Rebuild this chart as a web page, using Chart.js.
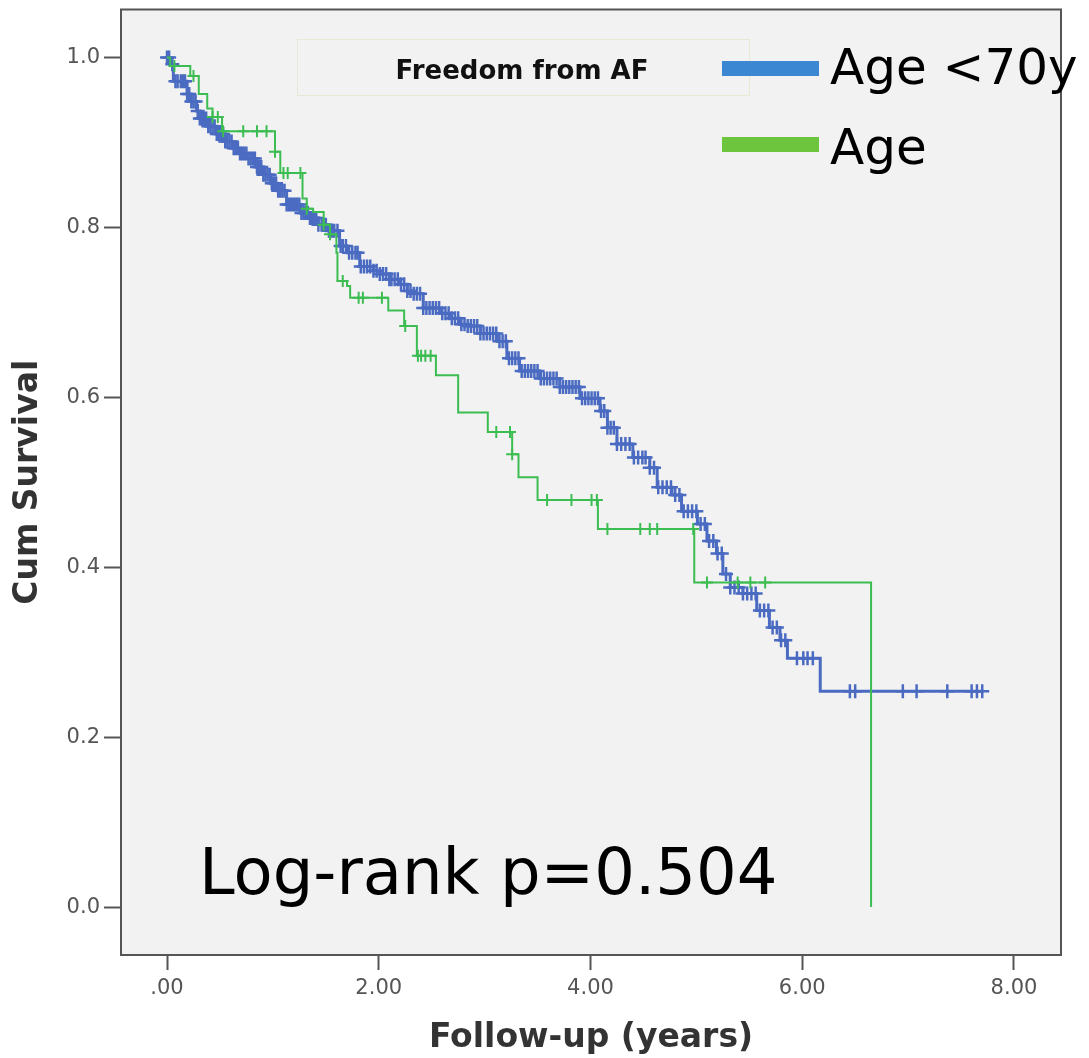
<!DOCTYPE html>
<html>
<head>
<meta charset="utf-8">
<script src="https://cdn.jsdelivr.net/npm/chart.js@4.4.1/dist/chart.umd.min.js"></script>
<style>
  html, body { margin: 0; padding: 0; background: #fff; }
  #wrap { width: 1089px; height: 1058px; position: relative; }
</style>
</head>
<body>
<div id="wrap"><canvas id="km"></canvas></div>
<script>
// axis ticks
const xTicks = [0, 2, 4, 6, 8];
const yTicks = [0, 0.2, 0.4, 0.6, 0.8, 1.0];

const legendTitle = 'Freedom from AF';
const seriesLabels = ['Age <70y', 'Age'];
const pValueText = 'Log-rank p=0.504';

// Age <70y : step curve (time in years, cumulative survival)
const blueTimes = [0, 0.03, 0.06, 0.19, 0.22, 0.28, 0.31, 0.39, 0.47, 0.55, 0.62, 0.69, 0.76, 0.84, 0.91, 0.98, 1.04, 1.13, 1.26, 1.35,
  1.43, 1.51, 1.63, 1.70, 1.82, 1.95, 2.01, 2.10, 2.20, 2.27, 2.32, 2.42, 2.58, 2.68, 2.77, 2.83, 2.96, 3.12, 3.21, 3.33,
  3.52, 3.71, 3.90, 4.09, 4.16, 4.25, 4.40, 4.56, 4.63, 4.77, 4.86, 5.01, 5.10, 5.19, 5.25, 5.32, 5.44, 5.57, 5.69, 5.79,
  5.86, 6.17, 7.71];
const blueSurv = [1.0, 0.992, 0.972, 0.957, 0.948, 0.937, 0.928, 0.919, 0.910, 0.901, 0.893, 0.887, 0.881, 0.871, 0.862, 0.852, 0.843, 0.827, 0.817, 0.811,
  0.803, 0.796, 0.778, 0.770, 0.754, 0.749, 0.745, 0.739, 0.733, 0.725, 0.722, 0.705, 0.699, 0.693, 0.686, 0.684, 0.675, 0.666, 0.646, 0.631,
  0.622, 0.612, 0.599, 0.584, 0.564, 0.545, 0.529, 0.517, 0.494, 0.485, 0.466, 0.451, 0.431, 0.416, 0.392, 0.376, 0.369, 0.349, 0.329, 0.314,
  0.293, 0.254, 0.254];
// censored times
const blueCensor = [0.00, 0.02, 0.05, 0.08, 0.10, 0.13, 0.15, 0.17, 0.19, 0.21, 0.23, 0.25, 0.27, 0.29, 0.31, 0.33, 0.35, 0.37, 0.39, 0.41,
  0.43, 0.45, 0.47, 0.49, 0.51, 0.53, 0.55, 0.57, 0.59, 0.61, 0.63, 0.65, 0.67, 0.69, 0.71, 0.73, 0.75, 0.77, 0.79, 0.81,
  0.83, 0.85, 0.87, 0.89, 0.91, 0.93, 0.95, 0.97, 0.99, 1.01, 1.03, 1.05, 1.07, 1.09, 1.11, 1.13, 1.15, 1.17, 1.19, 1.21,
  1.23, 1.25, 1.27, 1.29, 1.31, 1.33, 1.35, 1.37, 1.39, 1.41, 1.43, 1.46, 1.48, 1.50, 1.53, 1.56, 1.58, 1.61, 1.64, 1.66,
  1.69, 1.72, 1.75, 1.78, 1.80, 1.83, 1.86, 1.89, 1.92, 1.95, 1.98, 2.01, 2.04, 2.07, 2.10, 2.12, 2.15, 2.18, 2.21, 2.24,
  2.27, 2.30, 2.33, 2.36, 2.39, 2.42, 2.45, 2.48, 2.51, 2.54, 2.57, 2.60, 2.63, 2.66, 2.69, 2.72, 2.75, 2.78, 2.81, 2.84,
  2.87, 2.90, 2.93, 2.96, 2.99, 3.02, 3.05, 3.08, 3.11, 3.14, 3.17, 3.20, 3.23, 3.26, 3.29, 3.32, 3.35, 3.38, 3.41, 3.44,
  3.47, 3.50, 3.53, 3.56, 3.59, 3.62, 3.65, 3.68, 3.71, 3.74, 3.77, 3.80, 3.83, 3.86, 3.89, 3.92, 3.95, 3.98, 4.01, 4.04,
  4.07, 4.10, 4.13, 4.16, 4.19, 4.22, 4.25, 4.29, 4.33, 4.37, 4.41, 4.45, 4.49, 4.52, 4.56, 4.60, 4.64, 4.68, 4.72, 4.76,
  4.80, 4.84, 4.88, 4.92, 4.96, 5.00, 5.04, 5.08, 5.12, 5.16, 5.20, 5.24, 5.28, 5.32, 5.36, 5.40, 5.44, 5.48, 5.52, 5.56,
  5.60, 5.64, 5.68, 5.72, 5.76, 5.80, 5.84, 5.95, 6.01, 6.05, 6.10, 6.45, 6.50, 6.95, 7.08, 7.37, 7.60, 7.65, 7.70];

// Age >=70y
const greenTimes = [0, 0.03, 0.22, 0.30, 0.38, 0.43, 0.52, 1.02, 1.07, 1.28, 1.32, 1.38, 1.48, 1.54, 1.60, 1.61, 1.70, 1.73, 2.09, 2.24,
  2.36, 2.54, 2.75, 3.03, 3.26, 3.32, 3.50, 4.07, 4.98, 6.65];
const greenSurv = [1.0, 0.990, 0.978, 0.957, 0.940, 0.930, 0.913, 0.889, 0.864, 0.834, 0.822, 0.818, 0.803, 0.792, 0.770, 0.737, 0.731, 0.717, 0.702, 0.684,
  0.649, 0.626, 0.582, 0.559, 0.533, 0.506, 0.479, 0.445, 0.382, 0.0];
const greenCensor = [0.07, 0.25, 0.43, 0.48, 0.53, 0.72, 0.85, 0.94, 1.02, 1.10, 1.14, 1.26, 1.32, 1.48, 1.54, 1.66, 1.81, 1.85, 2.03, 2.25,
  2.37, 2.40, 2.44, 2.49, 3.11, 3.24, 3.26, 3.59, 3.82, 4.01, 4.06, 4.16, 4.47, 4.56, 4.63, 4.97, 5.10, 5.39, 5.51, 5.65];

const BLUE = '#4a6bc1';
const GREEN = '#3cbd52';

function survAt(times, surv, t) {
  let s = surv[0];
  for (let i = 0; i < times.length; i++) {
    if (times[i] <= t) s = surv[i];
  }
  return s;
}

function curve(times, surv) {
  return times.map((t, i) => ({ x: t, y: surv[i] }));
}

function censorPts(list, times, surv) {
  return list.map(t => ({ x: t, y: survAt(times, surv, t) }));
}

const frame = {
  id: 'frame',
  beforeDraw(chart) {
    const { ctx, chartArea: a } = chart;
    ctx.save();
    ctx.fillStyle = '#ffffff';
    ctx.fillRect(0, 0, chart.width, chart.height);
    ctx.fillStyle = '#f2f2f2';
    ctx.fillRect(a.left, a.top, a.right - a.left, a.bottom - a.top);
    ctx.restore();
  },
  afterDraw(chart) {
    const { ctx, chartArea: a } = chart;
    ctx.save();
    ctx.strokeStyle = '#555';
    ctx.lineWidth = 2;
    ctx.strokeRect(a.left, a.top, a.right - a.left, a.bottom - a.top);

    // legend box
    ctx.strokeStyle = '#e8e8d4';
    ctx.lineWidth = 1;
    ctx.strokeRect(297.5, 39.5, 452, 56);
    ctx.fillStyle = '#111';
    ctx.font = 'bold 26px "DejaVu Sans"';
    ctx.textAlign = 'center';
    ctx.textBaseline = 'alphabetic';
    ctx.fillText(legendTitle, 522, 79);

    ctx.fillStyle = '#3b87d2';
    ctx.fillRect(722, 61, 97, 15);
    ctx.fillStyle = '#6dc53e';
    ctx.fillRect(722, 137, 97, 15);

    ctx.fillStyle = '#000';
    ctx.textAlign = 'left';
    ctx.font = '50px "DejaVu Sans"';
    ctx.fillText(seriesLabels[0], 830, 84);
    ctx.fillText(seriesLabels[1], 830, 164);

    ctx.font = '64px "DejaVu Sans"';
    ctx.fillText(pValueText, 199, 894);
    ctx.restore();
  }
};

Chart.defaults.font.family = '"DejaVu Sans"';

new Chart(document.getElementById('km'), {
  type: 'scatter',
  data: {
    datasets: [
      {
        label: seriesLabels[1] + ' censored',
        data: censorPts(greenCensor, greenTimes, greenSurv),
        showLine: false,
        pointStyle: 'cross',
        pointRadius: 6,
        pointBorderWidth: 2,
        borderColor: GREEN,
        backgroundColor: GREEN
      },
      {
        label: seriesLabels[1],
        data: curve(greenTimes, greenSurv),
        showLine: true,
        stepped: true,
        pointRadius: 0,
        borderWidth: 2,
        borderColor: GREEN,
        fill: false
      },
      {
        label: seriesLabels[0] + ' censored',
        data: censorPts(blueCensor, blueTimes, blueSurv),
        showLine: false,
        pointStyle: 'cross',
        pointRadius: 7,
        pointBorderWidth: 2.5,
        borderColor: BLUE,
        backgroundColor: BLUE
      },
      {
        label: seriesLabels[0],
        data: curve(blueTimes, blueSurv),
        showLine: true,
        stepped: true,
        pointRadius: 0,
        borderWidth: 3,
        borderColor: BLUE,
        fill: false
      }
    ]
  },
  options: {
    responsive: true,
    maintainAspectRatio: false,
    animation: false,
    events: [],
    layout: { padding: { top: 8, right: 28, left: 0, bottom: 0 } },
    plugins: { legend: { display: false }, tooltip: { enabled: false } },
    scales: {
      x: {
        type: 'linear',
        min: -0.4345,
        max: 8.444,
        afterBuildTicks: s => { s.ticks = xTicks.map(v => ({ value: v })); },
        afterFit: s => { s.height = 103; s.paddingLeft = 0; s.paddingRight = 0; },
        ticks: {
          color: '#555',
          font: { size: 21 },
          padding: 6,
          maxRotation: 0,
          callback: v => v === 0 ? '.00' : v.toFixed(2)
        },
        grid: { drawOnChartArea: false, drawTicks: true, tickLength: 15, tickWidth: 2, tickColor: '#555' },
        border: { display: true, color: '#555', width: 2 },
        title: {
          display: true,
          text: 'Follow-up (years)',
          color: '#333',
          font: { size: 33, weight: 'bold' },
          padding: { top: 0, bottom: 0 }
        }
      },
      y: {
        type: 'linear',
        min: -0.0564,
        max: 1.0564,
        afterBuildTicks: s => { s.ticks = yTicks.map(v => ({ value: v })); },
        afterFit: s => { s.width = 121; s.paddingTop = 0; s.paddingBottom = 0; },
        ticks: {
          color: '#555',
          font: { size: 21 },
          padding: 4,
          callback: v => v.toFixed(1)
        },
        grid: { drawOnChartArea: false, drawTicks: true, tickLength: 17, tickWidth: 2, tickColor: '#555' },
        border: { display: true, color: '#555', width: 2 },
        title: {
          display: true,
          text: 'Cum Survival',
          color: '#333',
          font: { size: 33, weight: 'bold' },
          padding: { top: 9, bottom: 0 }
        }
      }
    }
  },
  plugins: [frame]
});
</script>
</body>
</html>
